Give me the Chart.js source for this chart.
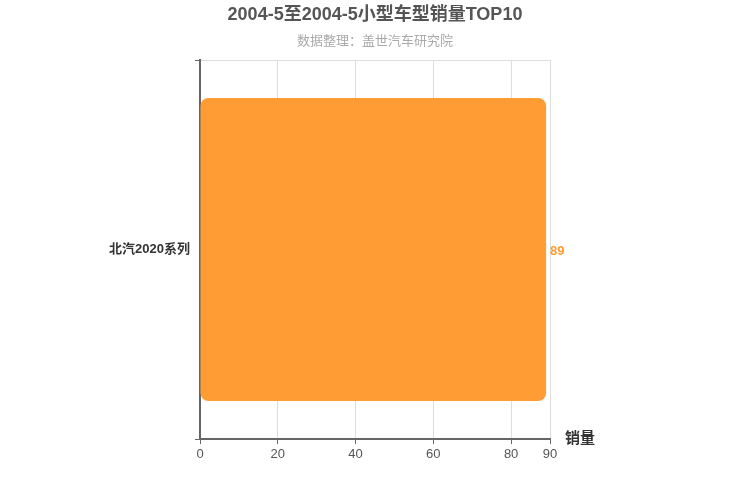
<html>
<head>
    <meta charset="utf-8">
    <title>销量TOP10</title>
    <style>
        body { margin: 0; background: #fff; }
        #wrap { width: 750px; height: 500px; }
    </style>
</head>
<body>
<script src="https://cdn.jsdelivr.net/npm/chart.js@4/dist/chart.umd.min.js"></script>

<div id="wrap"><canvas id="top10"></canvas></div>

<script>
    const title_text = '2004-5至2004-5小型车型销量TOP10';
    const subtitle_text = '数据整理：盖世汽车研究院';
    const categories = ['北汽2020系列'];
    const sales = [89];
    const x_ticks = [0, 20, 40, 60, 80, 90];

    const font_family = '"Liberation Sans", Arial, "Noto Sans CJK SC", sans-serif';
    const orange = 'rgb(255, 156, 52)';

    // titles, value labels and the axis name are drawn by hand
    const extras = {
        id: 'extras',
        afterDraw(chart) {
            const ctx = chart.ctx;
            const area = chart.chartArea;
            ctx.save();
            ctx.textAlign = 'center';
            ctx.textBaseline = 'middle';
            ctx.fillStyle = '#555';
            ctx.font = 'bold 18px ' + font_family;
            ctx.fillText(title_text, 375, 15);
            ctx.fillStyle = '#aaa';
            ctx.font = '13px ' + font_family;
            ctx.fillText(subtitle_text, 375, 41);

            ctx.textAlign = 'left';
            ctx.fillStyle = orange;
            ctx.font = 'bold 13px ' + font_family;
            chart.getDatasetMeta(0).data.forEach(function (bar, i) {
                ctx.fillText(sales[i], bar.x + 4, bar.y + 2);
            });

            ctx.fillStyle = '#333';
            ctx.font = 'bold 15px ' + font_family;
            ctx.fillText('销量', area.right + 15, area.bottom);
            ctx.restore();
        }
    };

    new Chart(document.getElementById('top10'), {
        type: 'bar',
        data: {
            labels: categories,
            datasets: [{
                data: sales,
                backgroundColor: orange,
                borderRadius: 8,
                borderSkipped: false,
                categoryPercentage: 0.8,
                barPercentage: 1.0
            }]
        },
        options: {
            indexAxis: 'y',
            responsive: true,
            maintainAspectRatio: false,
            animation: false,
            layout: {padding: {top: 60, right: 200, bottom: 29, left: 0}},
            plugins: {
                legend: {display: false},
                title: {display: false},
                tooltip: {enabled: false}
            },
            scales: {
                x: {
                    min: 0,
                    max: 90,
                    afterBuildTicks: function (axis) {
                        axis.ticks = x_ticks.map(v => ({value: v}));
                    },
                    afterFit: function (axis) { axis.height = 32; },
                    grid: {color: '#ddd', tickColor: '#666', tickLength: 5},
                    border: {color: '#666', width: 2},
                    ticks: {color: '#555', font: {family: font_family, size: 13}, padding: 3}
                },
                y: {
                    afterFit: function (axis) { axis.width = 200; },
                    grid: {offset: true, color: '#ddd', tickColor: '#666', tickLength: 5},
                    border: {color: '#666', width: 2},
                    ticks: {color: '#333', font: {family: font_family, size: 13, weight: 'bold'}, padding: 5}
                }
            }
        },
        plugins: [extras]
    });
</script>
</body>
</html>
